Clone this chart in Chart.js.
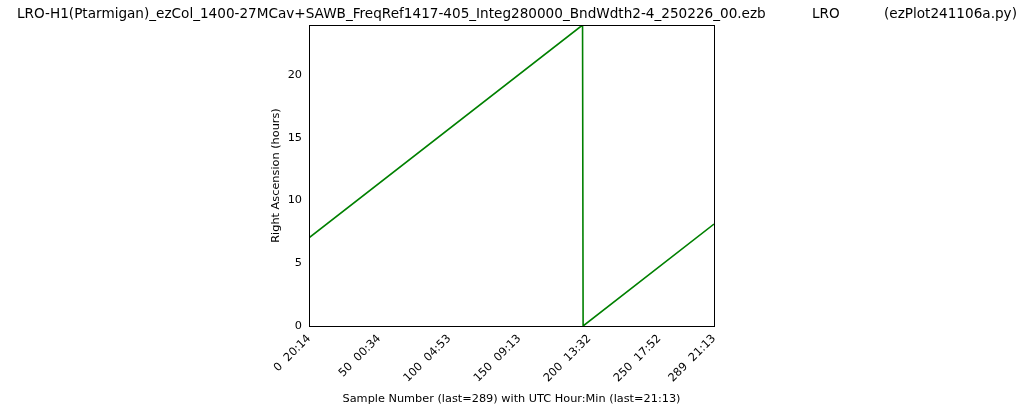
<!DOCTYPE html>
<html>
<head>
<meta charset="utf-8">
<script src="https://cdn.jsdelivr.net/npm/chart.js@4"></script>
<style>
  html, body { margin: 0; padding: 0; background: #fff; }
  #wrap { width: 1024px; height: 410px; }
</style>
</head>
<body>
<div id="wrap"><canvas id="raChart" width="1024" height="410"></canvas></div>
<script>
// values
const sampleNums = [0, 195.2, 195.6, 289];
const raHours = [7.02, 23.98, 0.0, 8.12];
const tickSamples = [0, 50, 100, 150, 200, 250, 289];
const tickTimes = ['20:14', '00:34', '04:53', '09:13', '13:32', '17:52', '21:13'];
const yTicks = [0, 5, 10, 15, 20];

const titleMain = 'LRO-H1(Ptarmigan)_ezCol_1400-27MCav+SAWB_FreqRef1417-405_Integ280000_BndWdth2-4_250226_00.ezb';
const titleMid = 'LRO';
const titleRight = '(ezPlot241106a.py)';
const yTitle = 'Right Ascension (hours)';

const FONT = 'DejaVu Sans';

const frameAndTitle = {
    id: 'frameAndTitle',
    afterDraw(chart) {
        const { ctx, chartArea: a } = chart;
        ctx.save();
        ctx.strokeStyle = '#000';
        ctx.lineWidth = 1;
        ctx.strokeRect(a.left + 0.5, a.top + 0.5, a.right - a.left, a.bottom - a.top);
        ctx.fillStyle = '#000';
        ctx.font = '13.6px "' + FONT + '"';
        ctx.textBaseline = 'middle';
        ctx.textAlign = 'left';
        ctx.fillText(titleMain, 17, 14);
        ctx.fillText(titleMid, 812, 14);
        ctx.fillText(titleRight, 884, 14);
        // y axis title
        ctx.font = '11.3px "' + FONT + '"';
        ctx.textAlign = 'center';
        ctx.translate(276, (a.top + a.bottom) / 2);
        ctx.rotate(-Math.PI / 2);
        ctx.fillText(yTitle, 0, 0);
        ctx.restore();
    }
};

const points = sampleNums.map((s, i) => ({ x: s, y: raHours[i] }));

new Chart(document.getElementById('raChart').getContext('2d'), {
    type: 'line',
    data: {
        datasets: [{
            data: points,
            borderColor: '#008000',
            borderWidth: 1.6,
            pointRadius: 0,
            fill: false,
            tension: 0
        }]
    },
    options: {
        responsive: false,
        animation: false,
        layout: { padding: { left: 0, top: 25, right: 310, bottom: 0 } },
        plugins: {
            legend: { display: false },
            tooltip: { enabled: false }
        },
        scales: {
            x: {
                type: 'linear',
                min: 0,
                max: 289,
                afterBuildTicks: (scale) => { scale.ticks = tickSamples.map(v => ({ value: v })); },
                afterFit: (scale) => { scale.height = 84; },
                grid: { display: false, drawTicks: true, tickLength: 4, tickColor: '#000' },
                border: { display: false },
                ticks: {
                    color: '#000',
                    font: { family: FONT, size: 11.3 },
                    minRotation: 45,
                    maxRotation: 45,
                    padding: 2,
                    autoSkip: false,
                    callback: (v) => {
                        const i = tickSamples.indexOf(v);
                        return i >= 0 ? v + '  ' + tickTimes[i] : '';
                    }
                },
                title: {
                    display: true,
                    text: 'Sample Number (last=289) with UTC Hour:Min (last=21:13)',
                    color: '#000',
                    font: { family: FONT, size: 11.3 },
                    padding: { top: 0, bottom: 4 }
                }
            },
            y: {
                min: 0,
                max: 23.98,
                afterBuildTicks: (scale) => { scale.ticks = yTicks.map(v => ({ value: v })); },
                afterFit: (scale) => { scale.width = 309; },
                grid: { display: false, drawTicks: true, tickLength: 4, tickColor: '#000' },
                border: { display: false },
                ticks: {
                    color: '#000',
                    font: { family: FONT, size: 11.3 },
                    padding: 3
                }
            }
        }
    },
    plugins: [frameAndTitle]
});
</script>
</body>
</html>
